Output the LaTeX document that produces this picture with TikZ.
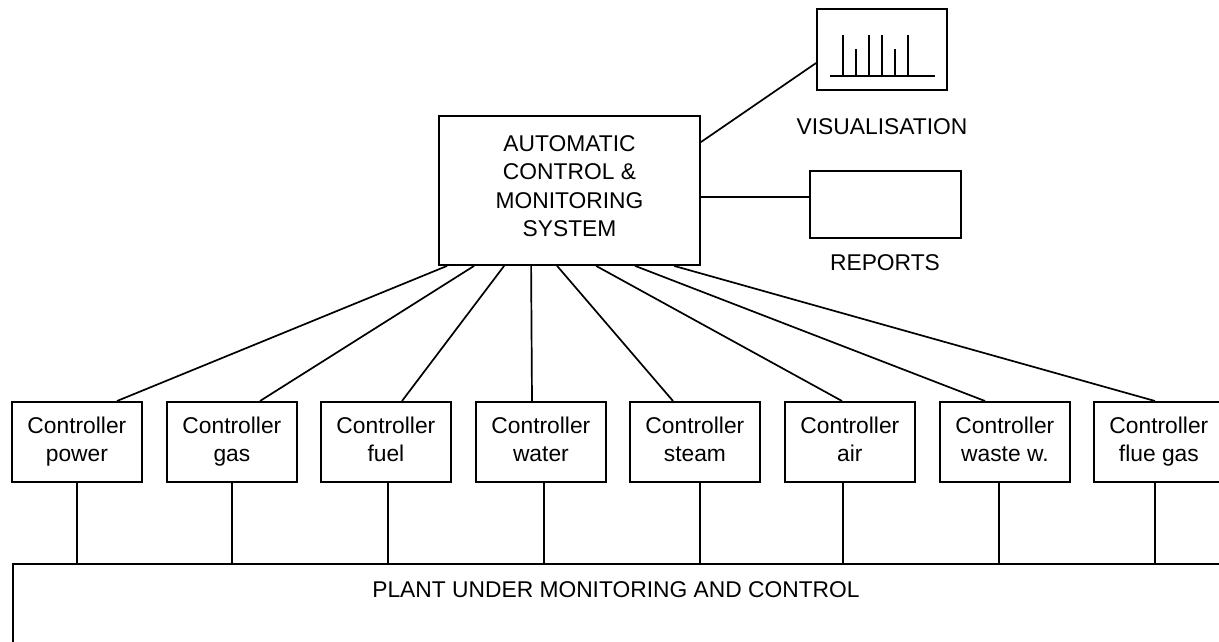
\documentclass[tikz,border=0pt]{standalone}
\usepackage{fontspec}
\setmainfont{Liberation Sans}
\usetikzlibrary{calc}
\begin{document}
\begin{tikzpicture}[x=1pt,y=-1pt,
  every node/.style={font=\fontsize{22.8}{28.5}\selectfont, inner sep=0pt},
  box/.style={draw, line width=1.8pt, rectangle, align=center},
  ctrl/.style={box, minimum width=130pt, minimum height=80pt, anchor=north west},
  link/.style={line width=1.7pt}]
\useasboundingbox (0,0) rectangle (1219,641);
\begin{scope}
\clip (0,0) rectangle (1219,641);
% main system
\node[box, minimum width=261pt, minimum height=149pt] (main) at (569.5,190.5)
  {AUTOMATIC\\CONTROL \&\\MONITORING\\SYSTEM\rule[-9pt]{0pt}{9pt}};
% visualisation
\node[box, minimum width=130pt, minimum height=81pt] (vis) at (882,49.5) {};
\node (vislabel) at (882,127) {VISUALISATION};
\draw[link] ($(vis.center)+(-52,26.5)$) -- ($(vis.center)+(53,26.5)$);
\foreach \dx/\top in {-39/-14.5,-26/-0.5,-13/-14.5,0/-14.5,13/-0.5,26/-14.5}
  \draw[link] ($(vis.center)+(\dx,26.5)$) -- ($(vis.center)+(\dx,\top)$);
% reports
\node[box, minimum width=151pt, minimum height=67pt] (rep) at (885.5,204.5) {};
\node (replabel) at (885,263) {REPORTS};
\coordinate (mv) at ($(main.north east)+(0,27)$);
\coordinate (mr) at ($(main.north east)+(0,82)$);
\draw[link] (mv) -- (vis.west |- 0,63);
\draw[link] (mr) -- (mr -| rep.west);
% controllers
\node[ctrl] (c1) at (11,401)   {\strut Controller\\power\strut};
\node[ctrl] (c2) at (166,401)  {\strut Controller\\gas\strut};
\node[ctrl] (c3) at (320,401)  {\strut Controller\\fuel\strut};
\node[ctrl] (c4) at (475,401)  {\strut Controller\\water\strut};
\node[ctrl] (c5) at (629,401)  {\strut Controller\\steam\strut};
\node[ctrl] (c6) at (784,401)  {\strut Controller\\air\strut};
\node[ctrl] (c7) at (939,401)  {\strut Controller\\waste w.\strut};
\node[ctrl] (c8) at (1093,401) {\strut Controller\\flue gas\strut};
% plant
\node[box, anchor=north west, minimum width=1240pt, minimum height=120pt] (plant) at (12,563) {};
\node (plantlabel) at (616,590) {PLANT UNDER MONITORING AND CONTROL};
% connectors main -> controllers
\foreach \i/\mx/\cx in {1/9/106, 2/36/94, 3/66/82, 4/93/57, 5/119/44, 6/158/58, 7/197/46, 8/236/62}
  \draw[link] ($(main.south west)+(\mx,0)$) -- ($(c\i.north west)+(\cx,0)$);
% controllers -> plant
\foreach \i/\cx in {1/66, 2/66, 3/68, 4/69, 5/71, 6/59, 7/60, 8/62}
{
  \coordinate (b\i) at ($(c\i.south west)+(\cx,0)$);
  \draw[link] (b\i) -- (b\i |- plant.north);
}
\end{scope}
\end{tikzpicture}
\end{document}
